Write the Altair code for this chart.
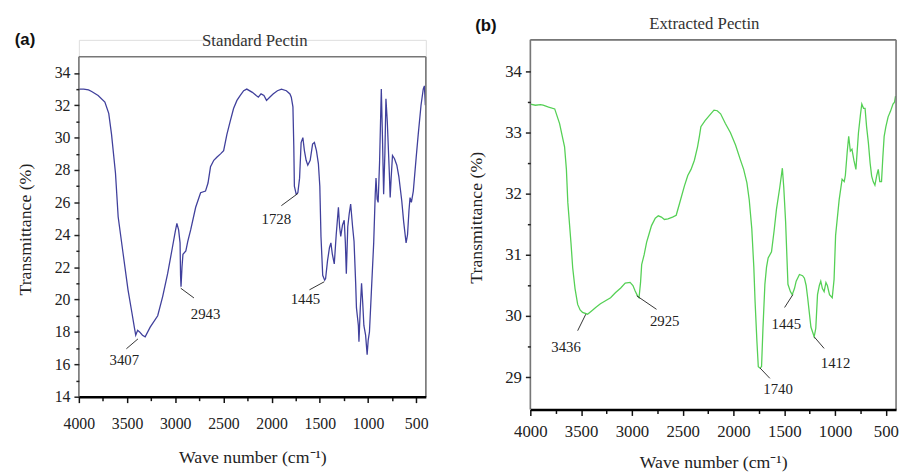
import altair as alt
import pandas as pd

# ---------------- data: (a) Standard Pectin ----------------
std_wn = [4000, 3950, 3900, 3867, 3800, 3730, 3690, 3661, 3620, 3592, 3540, 3490, 3450, 3422,
          3410, 3390, 3370, 3340, 3312, 3260, 3182, 3130, 3079, 3030, 3000, 2983, 2965, 2950,
          2945, 2940, 2930, 2920, 2890, 2870, 2840, 2788, 2737, 2686, 2660, 2634, 2600, 2566,
          2530, 2498, 2464, 2430, 2395, 2360, 2327, 2290, 2258, 2200, 2160, 2138, 2110, 2080,
          2053, 2020, 1985, 1940, 1898, 1847, 1810, 1796, 1779, 1770, 1764, 1745, 1728, 1710,
          1694, 1676, 1660, 1642, 1625, 1600, 1575, 1556, 1535, 1515, 1500, 1488, 1470, 1450,
          1440, 1420, 1400, 1385, 1370, 1350, 1330, 1307, 1295, 1283, 1265, 1247, 1235, 1225,
          1210, 1195, 1180, 1160, 1145, 1128, 1120, 1111, 1100, 1094, 1080, 1067, 1055, 1043,
          1025, 1009, 998, 985, 965, 941, 925, 917, 905, 895, 880, 862, 850, 838, 825, 814,
          800, 780, 770, 760, 746, 725, 701, 680, 650, 630, 605, 590, 575, 564, 550, 530, 500,
          479, 450, 427, 415, 405]
std_t = [33.0, 33.0, 32.95, 32.85, 32.6, 32.2, 31.5, 30.2, 27.8, 25.1, 22.8, 20.6, 19.2, 18.2,
         17.8, 18.1, 18.0, 17.8, 17.7, 18.3, 19.0, 20.2, 21.6, 23.2, 24.2, 24.7, 24.3, 23.5,
         21.5, 20.8, 22.0, 22.8, 23.0, 23.6, 24.3, 25.7, 26.6, 26.7, 27.2, 28.2, 28.6, 28.8,
         29.0, 29.2, 30.2, 31.0, 31.8, 32.3, 32.6, 32.9, 33.0, 32.8, 32.6, 32.5, 32.7, 32.6,
         32.3, 32.5, 32.7, 32.9, 33.0, 32.9, 32.7, 32.5, 31.9, 29.5, 27.0, 26.5, 26.6, 27.5,
         29.7, 30.0, 29.2, 28.6, 28.3, 28.6, 29.6, 29.7, 29.2, 28.4, 27.0, 23.9, 21.5, 21.2,
         21.3, 22.4, 23.2, 23.5, 22.8, 22.2, 24.0, 25.7, 24.5, 23.9, 24.6, 24.9, 23.5, 21.6,
         24.5, 25.3, 25.9, 24.5, 23.6, 21.0, 19.5, 19.0, 18.4, 17.4, 19.5, 21.0, 19.8, 18.4,
         17.8, 16.6, 17.5, 18.0, 20.5, 23.5, 26.5, 27.5, 26.2, 26.0, 28.5, 33.0, 30.0, 26.5,
         29.0, 32.4, 31.0, 28.0, 26.3, 27.5, 28.9, 28.7, 28.3, 27.6, 26.1, 24.8, 23.5, 24.0,
         25.5, 26.3, 26.0, 26.7, 28.8, 30.2, 32.0, 33.0, 33.2, 32.0]

std_lbl_text = ["3407", "2943", "1728", "1445"]
std_lbl_x = [3528, 2686, 1951, 1649]
std_lbl_y = [16.24, 19.1, 25.0, 20.0]
std_lead_x1 = [3507, 2806, 1899, 1608]
std_lead_y1 = [16.96, 20.1, 25.8, 20.6]
std_lead_x2 = [3387, 2943, 1728, 1454]
std_lead_y2 = [17.57, 20.7, 26.55, 21.1]

# ---------------- data: (b) Extracted Pectin ----------------
ext_wn = [4000, 3950, 3900, 3874, 3820, 3760, 3712, 3680, 3663, 3645, 3631, 3600, 3583, 3560,
          3534, 3510, 3486, 3437, 3400, 3357, 3310, 3260, 3210, 3163, 3110, 3066, 3018, 2990,
          2968, 2945, 2930, 2915, 2904, 2880, 2855, 2830, 2807, 2770, 2740, 2710, 2680, 2645,
          2600, 2564, 2530, 2483, 2450, 2418, 2385, 2354, 2335, 2321, 2280, 2224, 2192, 2160,
          2127, 2080, 2030, 1980, 1933, 1900, 1868, 1845, 1820, 1800, 1788, 1770, 1756, 1740,
          1724, 1710, 1691, 1675, 1659, 1626, 1600, 1577, 1545, 1519, 1505, 1487, 1475, 1464,
          1440, 1422, 1400, 1383, 1351, 1320, 1302, 1285, 1270, 1238, 1206, 1190, 1173, 1155,
          1141, 1125, 1108, 1090, 1076, 1055, 1028, 1010, 995, 960, 931, 910, 899, 880, 866,
          850, 834, 815, 795, 770, 750, 737, 720, 705, 690, 672, 655, 640, 625, 608, 590, 575,
          560, 543, 530, 517, 500, 478, 455, 430, 415, 405]
ext_t = [33.47, 33.45, 33.46, 33.45, 33.42, 33.39, 33.15, 32.9, 32.77, 32.4, 31.86, 31.2, 30.79,
         30.45, 30.19, 30.1, 30.06, 30.03, 30.08, 30.14, 30.2, 30.25, 30.3, 30.38, 30.46, 30.54,
         30.55, 30.5, 30.41, 30.33, 30.3, 30.55, 30.84, 31.0, 31.21, 31.35, 31.48, 31.6, 31.64,
         31.62, 31.58, 31.59, 31.62, 31.65, 31.85, 32.13, 32.3, 32.4, 32.55, 32.77, 32.95, 33.1,
         33.2, 33.31, 33.37, 33.36, 33.31, 33.15, 33.0, 32.8, 32.56, 32.4, 32.18, 31.9, 31.43,
         30.8, 30.25, 29.6, 29.17, 29.15, 29.17, 29.8, 30.52, 30.8, 30.95, 31.05, 31.4, 31.75,
         32.1, 32.42, 32.1, 31.54, 31.0, 30.52, 30.4, 30.35, 30.45, 30.57, 30.68, 30.66, 30.62,
         30.5, 30.3, 29.82, 29.66, 29.8, 30.35, 30.5, 30.57, 30.45, 30.4, 30.55, 30.5, 30.35,
         30.3, 30.6, 31.32, 31.9, 32.24, 32.2, 32.3, 32.7, 32.94, 32.7, 32.73, 32.55, 32.4, 33.0,
         33.3, 33.47, 33.4, 33.4, 33.1, 32.83, 32.5, 32.29, 32.2, 32.14, 32.3, 32.4, 32.2, 32.2,
         32.6, 32.94, 33.1, 33.26, 33.35, 33.47, 33.5, 33.6]

ext_lbl_text = ["3436", "2925", "1740", "1445", "1412"]
ext_lbl_x = [3648, 2677, 1561, 1480, 995]
ext_lbl_y = [29.49, 29.92, 28.80, 29.87, 29.23]
ext_lead_x1 = [3534, 2952, 1739, 1497, 1206]
ext_lead_y1 = [29.76, 30.33, 29.15, 30.14, 29.66]
ext_lead_x2 = [3454, 2758, 1642, 1416, 1108]
ext_lead_y2 = [30.03, 30.11, 28.98, 30.35, 29.47]

x_ticks = list(range(500, 4001, 250))
std_y_ticks = list(range(14, 35))
ext_y_ticks = [29, 29.5, 30, 30.5, 31, 31.5, 32, 32.5, 33, 33.5, 34]

SERIF = "Liberation Serif"
SANS = "Liberation Sans"
X_DOMAIN = [400, 4000]


def panel(wn, t, lx, ly, ltext, x1, y1, x2, y2, color, ydom, frame_ydom, width, height,
          yticks, ymajor, ytitle_y, head, head_x, head_y, tag, tag_dx, tag_off, lab_size,
          xlab_pad, xtitle_pad):
    df = pd.DataFrame({"wn": wn, "t": t})
    ldf = pd.DataFrame({"x1": x1, "y1": y1, "x2": x2, "y2": y2})
    tdf = pd.DataFrame({"x": lx, "y": ly, "text": ltext})
    lo, hi = frame_ydom
    # frame: left side, right side, top side (bottom side is the x axis line)
    fdf = pd.DataFrame({"xa": [X_DOMAIN[1], X_DOMAIN[0], X_DOMAIN[1]],
                        "xb": [X_DOMAIN[1], X_DOMAIN[0], X_DOMAIN[0]],
                        "ya": [lo, lo, hi], "yb": [hi, hi, hi]})
    xs = alt.Scale(domain=X_DOMAIN, reverse=True, nice=False, zero=False)
    ys = alt.Scale(domain=ydom, nice=False, zero=False)

    yaxis = alt.Axis(
        orient="left", values=yticks, grid=False, zindex=1, domain=False,
        labelExpr="datum.value % " + str(ymajor) + " === 0 ? format(datum.value, 'd') : ''",
        labelOverlap=False, labelFlush=False, labelBound=False,
        tickSize={"condition": {"test": "datum.value % " + str(ymajor) + " === 0", "value": 5},
                  "value": 3},
        tickColor="#222", tickWidth=1.5,
        labelFont=SERIF, labelFontSize=lab_size, labelColor="#222", labelPadding=4,
        title="Transmittance (%)", titleFont=SERIF, titleFontSize=18,
        titleFontWeight="normal", titleColor="#222", titlePadding=20, titleY=ytitle_y)

    line = alt.Chart(df).mark_line(color=color, strokeWidth=1.3).encode(
        x=alt.X("wn:Q", scale=xs, axis=alt.Axis(
            orient="bottom", values=x_ticks, grid=False, zindex=2,
            labelExpr="datum.value % 500 === 0 ? format(datum.value, 'd') : ''",
            labelOverlap=False, labelFlush=False, labelBound=False,
            tickSize={"condition": {"test": "datum.value % 500 === 0", "value": 6}, "value": 4},
            tickColor="#111", tickWidth=1.5, domainColor="#000", domainWidth=2.5,
            labelFont=SERIF, labelFontSize=lab_size, labelColor="#222", labelPadding=xlab_pad,
            title="Wave number (cm⁻¹)", titleFont=SERIF, titleFontSize=18,
            titleFontWeight="normal", titleColor="#222", titlePadding=xtitle_pad)),
        y=alt.Y("t:Q", scale=ys, axis=yaxis),
    )

    frame = alt.Chart(fdf).mark_rule(color="#777", strokeWidth=1.6).encode(
        x=alt.X("xa:Q", scale=xs, axis=None),
        x2="xb:Q",
        y=alt.Y("ya:Q", scale=ys, axis=yaxis),
        y2="yb:Q",
    )

    leads = alt.Chart(ldf).mark_rule(color="#333", strokeWidth=1).encode(
        x=alt.X("x1:Q", scale=xs, axis=None),
        x2="x2:Q",
        y=alt.Y("y1:Q", scale=ys, axis=yaxis),
        y2="y2:Q",
    )

    texts = alt.Chart(tdf).mark_text(font=SERIF, fontSize=15, color="#222",
                                     align="center", baseline="middle").encode(
        x=alt.X("x:Q", scale=xs, axis=alt.Axis(
            orient="top", labels=False, ticks=False, domain=False, grid=False,
            title=head, titleFont=SERIF, titleFontSize=17, titleFontWeight="normal",
            titleColor="#333", titleX=head_x, titleY=head_y, titleAlign="center",
            titleBaseline="middle", titleAngle=0)),
        y=alt.Y("y:Q", scale=ys, axis=yaxis),
        text="text:N",
    )

    return alt.layer(line, frame, leads, texts).resolve_axis(x="independent").properties(
        width=width, height=height,
        title=alt.TitleParams(tag, anchor="start", font=SANS, fontWeight="bold", fontSize=17,
                              color="#111", offset=tag_off, dx=tag_dx),
    )


left = panel(std_wn, std_t, std_lbl_x, std_lbl_y, std_lbl_text, std_lead_x1, std_lead_y1,
             std_lead_x2, std_lead_y2, "#40409c", [14, 36.04], [14, 35], 352, 362,
             std_y_ticks, 2, 192, "Standard Pectin", 178, 1, "(a)", -2, -17, 16, 13, 18)
right = panel(ext_wn, ext_t, ext_lbl_x, ext_lbl_y, ext_lbl_text, ext_lead_x1, ext_lead_y1,
              ext_lead_x2, ext_lead_y2, "#55d055", [28.47, 34.52], [28.47, 34.52], 371, 375,
              ext_y_ticks, 1, 180, "Extracted Pectin", 176, -17, "(b)", 8, -21, 17, 8, 15)

chart = alt.hconcat(left, right, spacing=38).properties(
    padding={"left": 14, "top": 10, "right": 0, "bottom": 0}
).configure_view(strokeWidth=0).configure(background="white")

chart.save("out.html", embed_options={"renderer": "svg", "actions": False})
